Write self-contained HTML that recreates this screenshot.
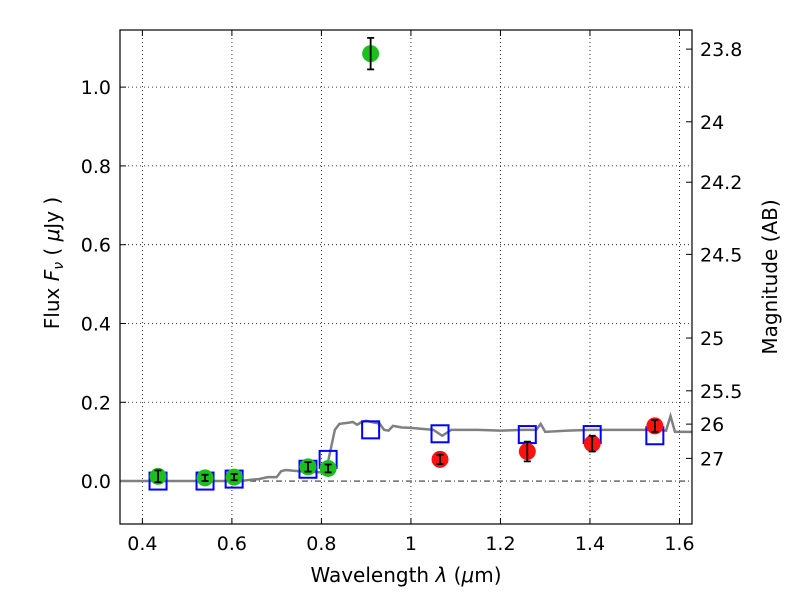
<!DOCTYPE html>
<html><head><meta charset="utf-8"><style>body{margin:0;background:#fff}svg{font-family:"DejaVu Sans","Liberation Sans",sans-serif}</style></head>
<body>
<svg id="c" width="800" height="600" xmlns="http://www.w3.org/2000/svg"></svg>
<script>
const xTicks=[0.4,0.6,0.8,1.0,1.2,1.4,1.6];
const xTickLabels=["0.4","0.6","0.8","1","1.2","1.4","1.6"];
const yTicks=[0,0.2,0.4,0.6,0.8,1.0];
const yTickLabels=["0.0","0.2","0.4","0.6","0.8","1.0"];
const magTicks=[23.8,24,24.2,24.5,25,25.5,26,27];
const magLabels=["23.8","24","24.2","24.5","25","25.5","26","27"];
const greenX=[0.435,0.54,0.605,0.77,0.815,0.91];
const greenY=[0.012,0.008,0.01,0.036,0.032,1.085];
const greenErr=[0.015,0.008,0.008,0.012,0.01,0.04];
const redX=[1.065,1.26,1.405,1.545];
const redY=[0.055,0.075,0.095,0.14];
const redErr=[0.012,0.025,0.02,0.015];
const modelX=[0.435,0.54,0.605,0.77,0.815,0.91,1.065,1.26,1.405,1.545];
const modelY=[0.0,0.0,0.005,0.03,0.055,0.13,0.12,0.118,0.118,0.115];
const lineX=[0.35,0.62,0.64,0.66,0.68,0.69,0.7,0.71,0.72,0.75,0.8,0.81,0.815,0.83,0.84,0.86,0.87,0.88,0.89,0.9,0.92,0.93,0.94,0.95,0.96,0.98,1.0,1.05,1.07,1.09,1.15,1.2,1.25,1.28,1.29,1.3,1.35,1.4,1.45,1.5,1.55,1.57,1.58,1.59,1.628];
const lineY=[0,0,0.003,0.005,0.01,0.01,0.01,0.025,0.028,0.025,0.022,0.022,0.05,0.13,0.145,0.148,0.15,0.143,0.15,0.153,0.148,0.146,0.13,0.128,0.14,0.136,0.135,0.13,0.115,0.13,0.13,0.128,0.13,0.13,0.145,0.125,0.128,0.13,0.13,0.13,0.13,0.128,0.165,0.125,0.125];
const L=120,R=692,T=30,B=524,x0=0.35,x1=1.628,y0=-0.109,y1=1.145;
const sx=v=>L+(v-x0)/(x1-x0)*(R-L), sy=v=>B-(v-y0)/(y1-y0)*(B-T);
const svg=document.getElementById('c');const NS='http://www.w3.org/2000/svg';
function mk(t,a,p){const e=document.createElementNS(NS,t);for(const k in a)e.setAttribute(k,a[k]);(p||svg).appendChild(e);return e;}
const cp=mk('clipPath',{id:'cp'});mk('rect',{x:L,y:T,width:R-L,height:B-T},cp);
xTicks.forEach((v,i)=>{const x=sx(v);
 const g=mk('line',{x1:x,x2:x,y1:T,y2:B,stroke:'#000','stroke-dasharray':'1,3','stroke-width':0.8});
 
 mk('line',{x1:x,x2:x,y1:B,y2:B-6,stroke:'#000'});mk('line',{x1:x,x2:x,y1:T,y2:T+6,stroke:'#000'});
 const t=mk('text',{x:x,y:B+26,'font-size':19,'text-anchor':'middle'});t.textContent=xTickLabels[i];
 });
yTicks.forEach((v,i)=>{const y=sy(v);
 const g=mk('line',{x1:L,x2:R,y1:y,y2:y,stroke:'#000','stroke-dasharray':v===0?'6,3,1,3':'1,3','stroke-width':0.8});
 
 mk('line',{x1:L,x2:L+6,y1:y,y2:y,stroke:'#000'});
 const t=mk('text',{x:L-9,y:y+7,'font-size':19,'text-anchor':'end'});t.textContent=yTickLabels[i];
 });
magTicks.forEach((m,i)=>{const y=sy(Math.pow(10,(23.9-m)/2.5));
 mk('line',{x1:R,x2:R-6,y1:y,y2:y,stroke:'#000'});
 const t=mk('text',{x:R+8,y:y+7,'font-size':19});t.textContent=magLabels[i];
 });
const pl=mk('polyline',{points:lineX.map((v,i)=>sx(v)+','+sy(lineY[i])).join(' '),fill:'none',stroke:'#808080','stroke-width':2.5,'clip-path':'url(#cp)'});

function pts(X,Y,E,col,name){X.forEach((v,i)=>{const x=sx(v),y=sy(Y[i]);
 const c=mk('circle',{cx:x,cy:y,r:8.5,fill:col});
 const ya=sy(Y[i]+E[i]),yb=sy(Y[i]-E[i]);
 mk('line',{x1:x,x2:x,y1:ya,y2:yb,stroke:'#000','stroke-width':1.8});
 mk('line',{x1:x-3.5,x2:x+3.5,y1:ya,y2:ya,stroke:'#000','stroke-width':1.8});
 mk('line',{x1:x-3.5,x2:x+3.5,y1:yb,y2:yb,stroke:'#000','stroke-width':1.8});});}
modelX.forEach((v,i)=>{const r=mk('rect',{x:sx(v)-8.5,y:sy(modelY[i])-8.5,width:17,height:17,fill:'none',stroke:'#0000ff','stroke-width':2});
 });
pts(greenX,greenY,greenErr,'#1dbf1d','observed-point');
pts(redX,redY,redErr,'#ff1111','upper-point');
const fr=mk('rect',{x:L,y:T,width:R-L,height:B-T,fill:'none',stroke:'#000','stroke-width':1.2});

let t=mk('text',{x:406,y:582,'font-size':20,'text-anchor':'middle'});t.innerHTML='Wavelength  <tspan font-style="italic">λ</tspan> (<tspan font-style="italic">μ</tspan>m)';

t=mk('text',{x:0,y:0,'font-size':20,'text-anchor':'middle',transform:'translate(59,263) rotate(-90)'});t.innerHTML='Flux  <tspan font-style="italic">F<tspan font-size="14" dy="4">ν</tspan></tspan><tspan dy="-4">  (  </tspan><tspan font-style="italic">μ</tspan>Jy )';

t=mk('text',{x:0,y:0,'font-size':20,'text-anchor':'middle',transform:'translate(777,277) rotate(-90)'});t.textContent='Magnitude (AB)';

</script>
</body></html>
